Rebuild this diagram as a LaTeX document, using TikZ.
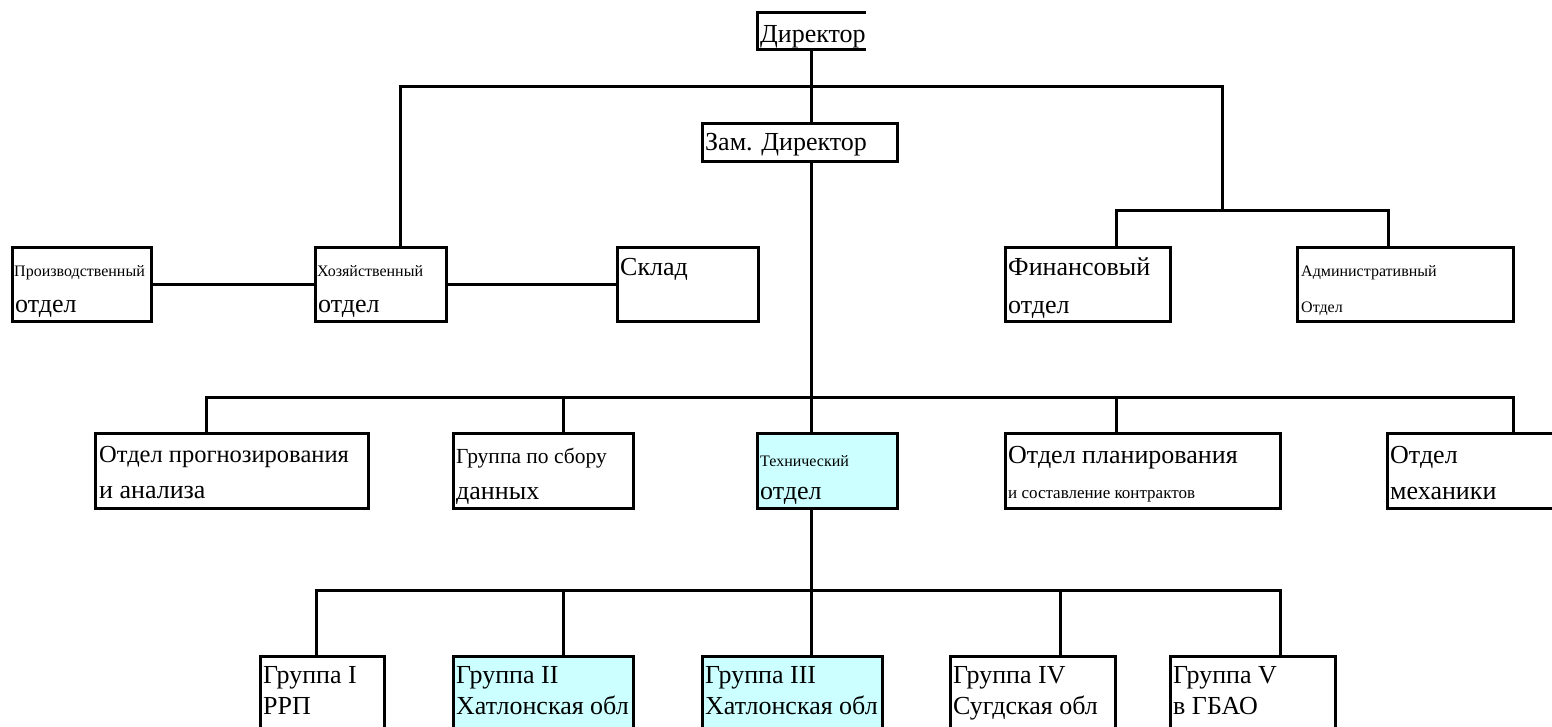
\documentclass[tikz,border=0pt]{standalone}
\usepackage{fontspec}
\setmainfont{Liberation Serif}
\definecolor{techcyan}{HTML}{CCFFFF}
\tikzset{
  unitbox/.style={draw=black, line width=3pt, inner sep=0pt, outer sep=0pt, anchor=north west},
  tinted/.style={fill=techcyan},
  link/.style={line width=3pt},
  lbl/.style={inner sep=0pt, anchor=base west},
  big/.style={lbl, font=\fontsize{26}{28}\selectfont},
  bigish/.style={lbl, font=\fontsize{24.5}{27}\selectfont},
  mid/.style={lbl, font=\fontsize{21.5}{23}\selectfont},
  sml/.style={lbl, font=\fontsize{17}{19}\selectfont},
  tiny/.style={lbl, font=\fontsize{16}{18}\selectfont},
}
\begin{document}
\begin{tikzpicture}[x=1pt, y=1pt]
\useasboundingbox (0,0) rectangle (1552,-726);
\clip (0,0) rectangle (1552,-726);

% ---- director (open on the right side)
\node[inner sep=0pt, outer sep=0pt, anchor=north west, minimum width=109pt, minimum height=37pt] (dir) at (757,-12) {};
\draw[link] (dir.north east) -- (dir.north west) -- (dir.south west) -- (dir.south east);
\node[big] (dir-t) at (760,-42) {Директор};

\node[unitbox, minimum width=195pt, minimum height=38pt] (zam) at (702,-123) {};
\node[big] (zam-t) at (705,-150) {Зам. Директор};

% ---- second row
\node[unitbox, minimum width=139pt, minimum height=74pt] (prod) at (12,-247) {};
\node[unitbox, minimum width=131pt, minimum height=74pt] (hoz) at (315,-247) {};
\node[unitbox, minimum width=141pt, minimum height=74pt] (sklad) at (617,-247) {};
\node[unitbox, minimum width=165pt, minimum height=74pt] (fin) at (1005,-247) {};
\node[unitbox, minimum width=216pt, minimum height=74pt] (adm) at (1297,-247) {};

\node[tiny] (prod-a) at (14,-276) {Производственный};
\node[big]  (prod-b) at (15,-312) {отдел};
\node[tiny] (hoz-a) at (317,-276) {Хозяйственный};
\node[big]  (hoz-b) at (318,-312) {отдел};
\node[big]  (sklad-a) at (620,-275) {Склад};
\node[big]  (fin-a) at (1008,-275) {Финансовый};
\node[big]  (fin-b) at (1008,-313) {отдел};
\node[tiny] (adm-a) at (1301,-276) {Административный};
\node[tiny] (adm-b) at (1301,-312) {Отдел};

% ---- third row
\node[unitbox, minimum width=273pt, minimum height=75pt] (prog) at (95,-433) {};
\node[unitbox, minimum width=180pt, minimum height=75pt] (sbor) at (453,-433) {};
\node[unitbox, tinted, minimum width=140pt, minimum height=75pt] (tech) at (757,-433) {};
\node[unitbox, minimum width=275pt, minimum height=75pt] (plan) at (1005,-433) {};
\node[unitbox, minimum width=190pt, minimum height=75pt] (mech) at (1387,-433) {};

\node[bigish] (prog-a) at (99,-462) {Отдел прогнозирования};
\node[big] (prog-b) at (99,-498) {и анализа};
\node[mid] (sbor-a) at (456,-463) {Группа по сбору};
\node[big] (sbor-b) at (456,-499) {данных};
\node[tiny] (tech-a) at (760,-466) {Технический};
\node[big] (tech-b) at (760,-499) {отдел};
\node[big] (plan-a) at (1008,-463) {Отдел планирования};
\node[sml] (plan-b) at (1008,-498) {и составление контрактов};
\node[big] (mech-a) at (1390,-463) {Отдел};
\node[big] (mech-b) at (1390,-499) {механики};

% ---- fourth row
\node[unitbox, minimum width=124pt, minimum height=90pt] (g1) at (260,-656) {};
\node[unitbox, tinted, minimum width=180pt, minimum height=90pt] (g2) at (453,-656) {};
\node[unitbox, tinted, minimum width=180pt, minimum height=90pt] (g3) at (702,-656) {};
\node[unitbox, minimum width=165pt, minimum height=90pt] (g4) at (950,-656) {};
\node[unitbox, minimum width=165pt, minimum height=90pt] (g5) at (1170,-656) {};

\node[big] (g1-a) at (263,-683) {Группа I};
\node[big] (g1-b) at (263,-714) {РРП};
\node[big] (g2-a) at (456,-683) {Группа II};
\node[big] (g2-b) at (456,-714) {Хатлонская обл};
\node[big] (g3-a) at (705,-683) {Группа III};
\node[big] (g3-b) at (705,-714) {Хатлонская обл};
\node[big] (g4-a) at (953,-683) {Группа IV};
\node[big] (g4-b) at (953,-714) {Сугдская обл};
\node[big] (g5-a) at (1173,-683) {Группа V};
\node[big] (g5-b) at (1173,-714) {в ГБАО};

% ---- junctions and attachment points
\coordinate (j1) at (811,-86);
\coordinate (j2) at (1222,-210);
\coordinate (j3) at (811,-397);
\coordinate (j4) at (811,-590);
\coordinate (hoz-in) at ([xshift=85pt]hoz.north west);
\coordinate (fin-in) at ([xshift=111pt]fin.north west);
\coordinate (adm-in) at ([xshift=91pt]adm.north west);
\coordinate (prog-in) at ([xshift=111pt]prog.north west);
\coordinate (sbor-in) at ([xshift=110pt]sbor.north west);
\coordinate (plan-in) at ([xshift=111pt]plan.north west);
\coordinate (mech-in) at ([xshift=126pt]mech.north west);
\coordinate (g1-in) at ([xshift=56pt]g1.north west);
\coordinate (g2-in) at ([xshift=110pt]g2.north west);
\coordinate (g4-in) at ([xshift=110pt]g4.north west);
\coordinate (g5-in) at ([xshift=110pt]g5.north west);

% ---- connectors
\draw[link] (dir.south) -- (dir.south |- zam.north);
\draw[link] (hoz-in) |- (j1) -| (j2);
\draw[link] (fin-in) |- (j2) -| (adm-in);
\draw[link] (prod.east) -- (hoz.west);
\draw[link] (hoz.east) -- (sklad.west);

\draw[link] (j1 |- zam.south) -- (j3);
\draw[link] (prog-in) |- (j3) -| (mech-in);
\draw[link] (sbor-in) -- (sbor-in |- j3);
\draw[link] (j3) -- (j3 |- tech.north);
\draw[link] (plan-in) -- (plan-in |- j3);

\draw[link] (j3 |- tech.south) -- (j4);
\draw[link] (g1-in) |- (j4) -| (g5-in);
\draw[link] (g2-in) -- (g2-in |- j4);
\draw[link] (j4) -- (j4 |- g3.north);
\draw[link] (g4-in) -- (g4-in |- j4);
\end{tikzpicture}
\end{document}
